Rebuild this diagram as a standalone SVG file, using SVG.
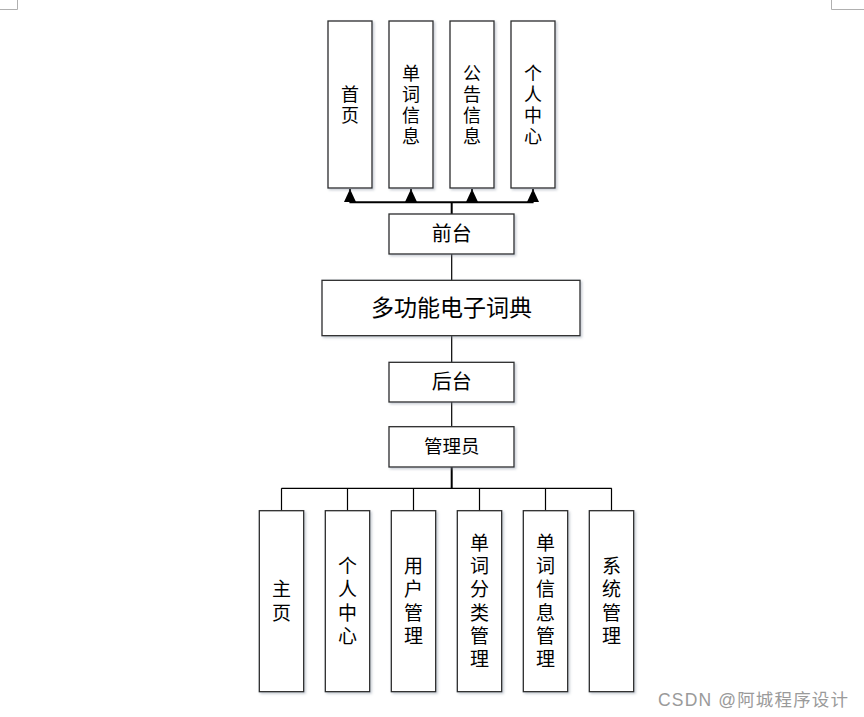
<svg xmlns="http://www.w3.org/2000/svg" width="864" height="717" viewBox="0 0 864 717">
<defs>
<filter id="sh" x="-20%" y="-20%" width="140%" height="140%">
<feDropShadow dx="1.5" dy="1.5" stdDeviation="1" flood-color="#7f8a99" flood-opacity="0.45"/>
</filter>
<marker id="arr" markerWidth="13" markerHeight="12" refX="13" refY="6" orient="auto" markerUnits="userSpaceOnUse" viewBox="0 0 13 12">
<path d="M0,0 L13,6 L0,12 Z" fill="#000"/>
</marker>
</defs>
<style>
.box{fill:#fff;stroke:#2b2b2b;stroke-width:1.3;filter:url(#sh)}
.t{font-family:"Noto Sans CJK SC","Liberation Sans",sans-serif;fill:#000;text-anchor:middle}
.vt{writing-mode:vertical-rl;text-orientation:upright;dominant-baseline:central}
.v{font-size:18px;letter-spacing:3px}
.vb{font-size:19px;letter-spacing:4.3px}
.c{fill:none;stroke:#000;stroke-width:1.2}
.ct{fill:none;stroke:#000;stroke-width:2}
.corner{fill:none;stroke:#b0b0b0;stroke-width:1}
</style>
<rect width="864" height="717" fill="#fff"/>
<path class="corner" d="M0,9.5 H17.5 V0"/>
<path class="corner" d="M831.5,0 V9.5 H864"/>

<g id="connectors">
<path class="ct" d="M349.5,202.3 H533.5"/>
<path class="ct" d="M451.7,202.3 V214"/>
<path class="ct" d="M350,202.3 V189" marker-end="url(#arr)"/>
<path class="ct" d="M411,202.3 V189" marker-end="url(#arr)"/>
<path class="ct" d="M472,202.3 V189" marker-end="url(#arr)"/>
<path class="ct" d="M533,202.3 V189" marker-end="url(#arr)"/>
<path class="c" d="M451.7,254 V280.3"/>
<path class="c" d="M451.7,335.7 V362.3"/>
<path class="c" d="M451.7,402 V426.7"/>
<path class="ct" d="M451.7,467 V488.3"/>
<path class="c" d="M281.5,488.3 H611.7"/>
<path class="c" d="M281.5,488.3 V510.7 M347.5,488.3 V510.7 M413.5,488.3 V510.7 M479.5,488.3 V510.7 M545.5,488.3 V510.7 M611.5,488.3 V510.7"/>
</g>

<g id="n-shouye">
<rect class="box" x="328" y="21" width="44" height="167"/>
<text class="t vt v" x="350" y="106">首页</text>
</g>
<g id="n-danci">
<rect class="box" x="389" y="21" width="44" height="167"/>
<text class="t vt v" x="411" y="106">单词信息</text>
</g>
<g id="n-gonggao">
<rect class="box" x="450" y="21" width="44" height="167"/>
<text class="t vt v" x="472" y="106">公告信息</text>
</g>
<g id="n-geren">
<rect class="box" x="511" y="21" width="44" height="167"/>
<text class="t vt v" x="533" y="106">个人中心</text>
</g>

<g id="n-qiantai">
<rect class="box" x="389" y="214" width="125" height="40"/>
<text class="t" x="451.7" y="241" font-size="20">前台</text>
</g>
<g id="n-main">
<rect class="box" x="322" y="280.3" width="258" height="55.4"/>
<text class="t" x="451.5" y="316" font-size="23">多功能电子词典</text>
</g>
<g id="n-houtai">
<rect class="box" x="389" y="362.3" width="125" height="39.7"/>
<text class="t" x="451.7" y="389" font-size="20">后台</text>
</g>
<g id="n-admin">
<rect class="box" x="389" y="426.7" width="125" height="40.3"/>
<text class="t" x="451.7" y="453" font-size="18.5">管理员</text>
</g>

<g id="n-zhuye">
<rect class="box" x="259.3" y="510.7" width="44.4" height="181"/>
<text class="t vt vb" x="281.5" y="603">主页</text>
</g>
<g id="n-gerenzhongxin">
<rect class="box" x="325.3" y="510.7" width="44.4" height="181"/>
<text class="t vt vb" x="347.5" y="603">个人中心</text>
</g>
<g id="n-yonghu">
<rect class="box" x="391.3" y="510.7" width="44.4" height="181"/>
<text class="t vt vb" x="413.5" y="603">用户管理</text>
</g>
<g id="n-fenlei">
<rect class="box" x="457.3" y="510.7" width="44.4" height="181"/>
<text class="t vt vb" x="479.5" y="603">单词分类管理</text>
</g>
<g id="n-dancixinxi">
<rect class="box" x="523.3" y="510.7" width="44.4" height="181"/>
<text class="t vt vb" x="545.5" y="603">单词信息管理</text>
</g>
<g id="n-xitong">
<rect class="box" x="589.3" y="510.7" width="44.4" height="181"/>
<text class="t vt vb" x="611.5" y="603">系统管理</text>
</g>

<text x="658" y="706" textLength="190" lengthAdjust="spacing" font-family="'Liberation Sans','Noto Sans CJK SC',sans-serif" font-size="17.5" fill="#9a9a9a">CSDN @阿城程序设计</text>
</svg>
